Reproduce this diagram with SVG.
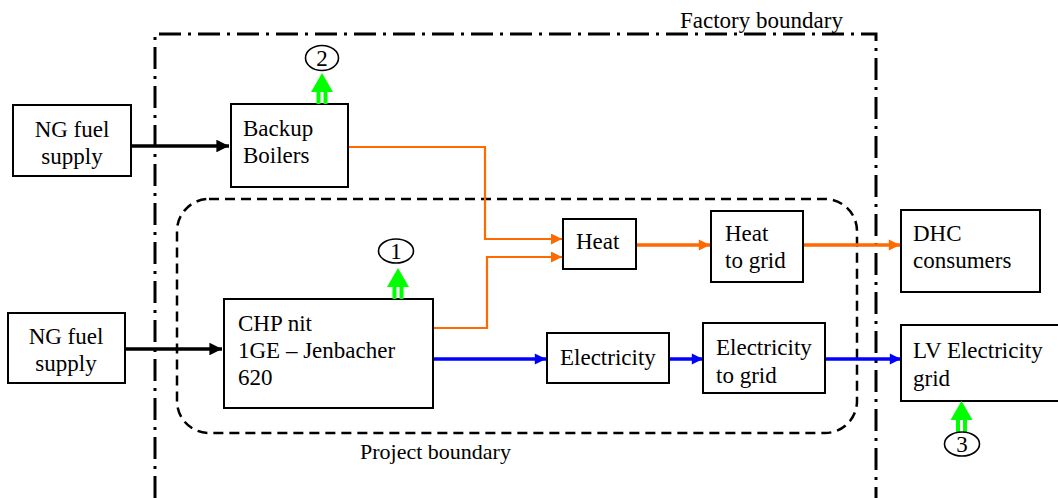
<svg xmlns="http://www.w3.org/2000/svg" width="1058" height="498" viewBox="0 0 1058 498" font-family="'Liberation Serif', 'Times New Roman', 'DejaVu Serif', serif">
<style>
text{font-family:'Liberation Serif','Times New Roman','DejaVu Serif',serif;font-size:23px;fill:#000}
.box{fill:#fff;stroke:#000;stroke-width:2}
.blk{fill:none;stroke:#000;stroke-width:3.5}
.org{fill:none;stroke:#FF6A00;stroke-width:2.2}
.orgT{fill:none;stroke:#FF6A00;stroke-width:3.5}
.blu{fill:none;stroke:#0000FF;stroke-width:3.5}
.num{fill:#fff;stroke:#000;stroke-width:1.6}
.c{text-anchor:middle}
</style>
<defs>
<marker id="aK" viewBox="0 0 10 10" refX="10" refY="5" markerWidth="4.2" markerHeight="3.6" orient="auto" markerUnits="strokeWidth"><path d="M0,0L10,5L0,10z" fill="#000"/></marker>
<marker id="aO" viewBox="0 0 10 10" refX="10" refY="5" markerWidth="5" markerHeight="5" orient="auto" markerUnits="strokeWidth"><path d="M0,0L10,5L0,10z" fill="#FF6A00"/></marker>
<marker id="aO2" viewBox="0 0 10 10" refX="10" refY="5" markerWidth="3.4" markerHeight="3.2" orient="auto" markerUnits="strokeWidth"><path d="M0,0L10,5L0,10z" fill="#FF6A00"/></marker>
<marker id="aB" viewBox="0 0 10 10" refX="10" refY="5" markerWidth="3.4" markerHeight="3.2" orient="auto" markerUnits="strokeWidth"><path d="M0,0L10,5L0,10z" fill="#0000FF"/></marker>
<g id="up"><polygon points="0,0 11,19 -11,19" fill="#00FF00"/><rect x="-5.5" y="19" width="4" height="12" fill="#00FF00"/><rect x="1.5" y="19" width="4" height="12" fill="#00FF00"/></g>
</defs>
<rect width="1058" height="498" fill="#fff"/>
<g id="boundaries">
<path d="M155,498V34H876V498" fill="none" stroke="#000" stroke-width="3" stroke-dasharray="22 7 3 7"/>
<text x="680" y="28" style="font-size:23px">Factory boundary</text>
<rect x="177" y="199" width="680" height="234" rx="32" fill="none" stroke="#000" stroke-width="2.5" stroke-dasharray="10 6"/>
<text x="360" y="459" style="font-size:22px">Project boundary</text>
</g>
<g id="connectors">
<path class="blk" d="M131,146H229" marker-end="url(#aK)"/>
<path class="blk" d="M125,349H222" marker-end="url(#aK)"/>
<path class="org" d="M348,147H485V239H562" marker-end="url(#aO)"/>
<path class="org" d="M433,328H487V257H562" marker-end="url(#aO)"/>
<path class="orgT" d="M636,245H710" marker-end="url(#aO2)"/>
<path class="orgT" d="M803,245H900" marker-end="url(#aO2)"/>
<path class="blu" d="M433,359H546" marker-end="url(#aB)"/>
<path class="blu" d="M669,359H703" marker-end="url(#aB)"/>
<path class="blu" d="M825,359H901" marker-end="url(#aB)"/>
</g>
<g id="ng1"><rect class="box" x="13" y="105" width="118" height="71"/><text class="c" x="72" y="137">NG fuel</text><text class="c" x="72" y="164">supply</text></g>
<g id="ng2"><rect class="box" x="8" y="313" width="117" height="70"/><text class="c" x="66" y="344">NG fuel</text><text class="c" x="66" y="371">supply</text></g>
<g id="boilers"><rect class="box" x="231" y="104" width="117" height="83"/><text x="243" y="136">Backup</text><text x="243" y="163">Boilers</text></g>
<g id="chp"><rect class="box" x="224" y="299" width="209" height="109"/><text x="238" y="331">CHP nit</text><text x="238" y="358">1GE – Jenbacher</text><text x="238" y="385">620</text></g>
<g id="heat"><rect class="box" x="563" y="219" width="73" height="50"/><text x="576" y="249">Heat</text></g>
<g id="heatgrid"><rect class="box" x="711" y="211" width="92" height="71"/><text x="725" y="241">Heat</text><text x="725" y="268">to grid</text></g>
<g id="dhc"><rect class="box" x="901" y="210" width="139" height="82"/><text x="913" y="241">DHC</text><text x="913" y="268">consumers</text></g>
<g id="elec"><rect class="box" x="547" y="333" width="122" height="50"/><text x="560" y="365">Electricity</text></g>
<g id="elecgrid"><rect class="box" x="703" y="323" width="122" height="70"/><text x="716" y="355">Electricity</text><text x="716" y="383">to grid</text></g>
<g id="lv"><rect class="box" x="901" y="325" width="160" height="76"/><text x="913" y="358">LV Electricity</text><text x="913" y="386">grid</text></g>
<g id="m2"><use href="#up" x="322" y="73"/><ellipse class="num" cx="322" cy="58" rx="16.5" ry="12.5"/><text class="c" x="322" y="66">2</text></g>
<g id="m1"><use href="#up" x="398" y="268"/><ellipse class="num" cx="396" cy="251" rx="17.5" ry="12"/><text class="c" x="396" y="259">1</text></g>
<g id="m3"><rect x="956" y="419" width="4" height="14" fill="#00FF00"/><rect x="963" y="419" width="4" height="14" fill="#00FF00"/><polygon points="961.5,401 972.5,420 950.5,420" fill="#00FF00"/><ellipse class="num" cx="962" cy="444" rx="17.5" ry="12"/><text class="c" x="962" y="452">3</text></g>
</svg>
